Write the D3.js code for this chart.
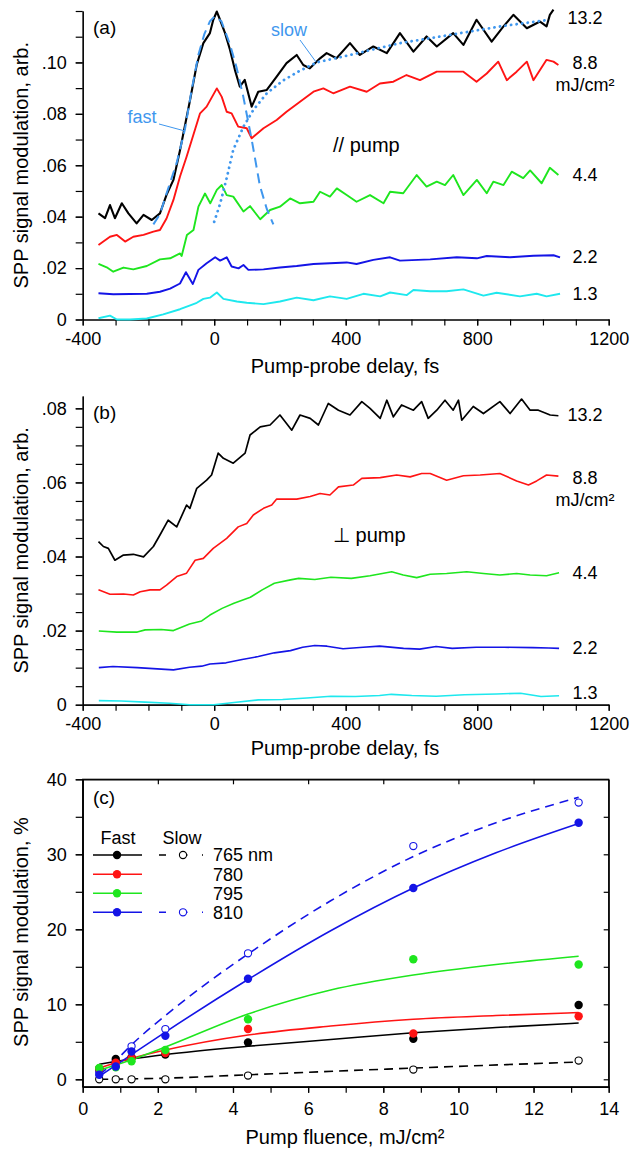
<!DOCTYPE html>
<html><head><meta charset="utf-8">
<script src="https://cdn.jsdelivr.net/npm/d3@7"></script>
<style>
body{margin:0;background:#fff}
text{font-family:"Liberation Sans",Arial,Helvetica,sans-serif;fill:#000}
</style>
</head><body>
<svg id="chart" width="633" height="1151"></svg>
<script>
// ---------- DATA ----------
const delayTicks = [-400, 0, 400, 800, 1200];
const delayMinor = d3.range(-400, 1201, 100);
const fluenceLabels = ["13.2", "8.8", "4.4", "2.2", "1.3"];

// panel (a)  // pump  [delay fs, modulation]
const a13_2 = [[-352,0.0413],[-332,0.0394],[-317,0.0445],[-302,0.0394],[-281,0.0452],[-261,0.0413],[-236,0.0374],[-215,0.0407],[-190,0.0387],[-165,0.0413],[-145,0.0485],[-124,0.0543],[-104,0.0658],[-74,0.085],[-53,0.0992],[-33,0.1075],[-13,0.1114],[-3,0.1165],[8,0.1198],[18,0.1165],[33,0.1114],[48,0.1049],[63,0.0971],[78,0.0906],[93,0.0932],[114,0.0828],[134,0.0886],[160,0.0893],[190,0.0945],[220,0.0997],[251,0.1029],[271,0.099],[291,0.0977],[322,0.1016],[342,0.1036],[372,0.1016],[413,0.1075],[443,0.1029],[484,0.1062],[525,0.1036],[565,0.1114],[606,0.1042],[646,0.1101],[677,0.1062],[727,0.1114],[758,0.1068],[798,0.1166],[844,0.1081],[880,0.114],[910,0.1185],[951,0.1133],[991,0.1159],[1011,0.114],[1021,0.1185],[1032,0.1205]];
const a8_8 = [[-352,0.029],[-317,0.0322],[-296,0.0329],[-271,0.0303],[-246,0.0322],[-215,0.0329],[-185,0.0342],[-165,0.0348],[-145,0.0393],[-124,0.0465],[-104,0.0556],[-84,0.0633],[-43,0.0802],[-23,0.0828],[8,0.0899],[23,0.0866],[38,0.0808],[53,0.0802],[73,0.075],[99,0.0744],[114,0.0705],[150,0.0744],[190,0.0776],[220,0.0808],[261,0.0847],[302,0.0886],[332,0.0899],[362,0.088],[413,0.0906],[464,0.0886],[504,0.0918],[545,0.0925],[585,0.0951],[626,0.0931],[677,0.0964],[717,0.0964],[758,0.0964],[798,0.0925],[829,0.0957],[864,0.1003],[890,0.0931],[920,0.0964],[951,0.1003],[971,0.0931],[1011,0.101],[1032,0.1003],[1047,0.099]];
const a4_4 = [[-352,0.0216],[-327,0.0203],[-307,0.0186],[-276,0.0202],[-246,0.0195],[-205,0.0208],[-165,0.0234],[-134,0.0238],[-104,0.0257],[-99,0.0247],[-83,0.0329],[-63,0.0348],[-48,0.0439],[-28,0.049],[-12,0.0452],[8,0.0504],[23,0.0523],[38,0.0484],[58,0.0478],[89,0.042],[109,0.0441],[140,0.039],[170,0.0426],[200,0.0439],[231,0.0471],[261,0.0452],[302,0.0458],[322,0.0497],[352,0.0478],[373,0.051],[403,0.0484],[433,0.0458],[474,0.0484],[515,0.0452],[535,0.0497],[575,0.0491],[616,0.0562],[646,0.0517],[677,0.0536],[702,0.0523],[727,0.0562],[758,0.0484],[799,0.0543],[829,0.0491],[849,0.0536],[880,0.0523],[905,0.0575],[940,0.055],[961,0.058],[996,0.053],[1021,0.059],[1047,0.0562]];
const a2_2 = [[-352,0.0102],[-307,0.0098],[-256,0.0099],[-205,0.010],[-165,0.0108],[-134,0.012],[-104,0.014],[-86,0.0184],[-65,0.0138],[-48,0.0193],[-23,0.0219],[3,0.0242],[18,0.0229],[38,0.0242],[53,0.0206],[74,0.0199],[89,0.0212],[104,0.0193],[150,0.0195],[200,0.0202],[251,0.0208],[302,0.0216],[352,0.0219],[403,0.0222],[433,0.0216],[484,0.0232],[535,0.0242],[565,0.0229],[657,0.0234],[738,0.0242],[799,0.0238],[829,0.0247],[900,0.0242],[971,0.0248],[1032,0.025],[1052,0.0242]];
const a1_3 = [[-352,0.0005],[-317,0.0015],[-296,0],[-256,0],[-205,0.0004],[-155,0.002],[-104,0.004],[-73,0.0055],[-53,0.0065],[-33,0.008],[-13,0.0085],[8,0.0105],[28,0.008],[69,0.007],[99,0.0065],[150,0.006],[200,0.007],[251,0.0085],[302,0.0075],[352,0.009],[403,0.008],[454,0.010],[505,0.009],[535,0.0105],[586,0.0095],[606,0.0115],[657,0.011],[707,0.011],[758,0.0117],[819,0.0093],[859,0.0104],[930,0.009],[981,0.010],[1011,0.009],[1052,0.010]];
const fastFit = [[-185,0.037],[-165,0.041],[-145,0.049],[-114,0.061],[-89,0.074],[-69,0.089],[-48,0.103],[-30,0.111],[-13,0.116],[2,0.118],[22,0.116],[48,0.107],[68,0.098],[88,0.087],[114,0.070],[139,0.052],[160,0.043],[180,0.037]];
const slowFit = [[0,0.038],[18,0.045],[38,0.055],[58,0.066],[89,0.075],[119,0.0815],[160,0.088],[210,0.093],[261,0.0968],[312,0.1],[413,0.1029],[565,0.1075],[717,0.1107],[870,0.114],[1021,0.1166]];

// panel (b)  ⊥ pump
const b13_2 = [[-352,0.044],[-337,0.0427],[-322,0.0422],[-302,0.039],[-276,0.0404],[-246,0.0406],[-215,0.0399],[-185,0.0427],[-165,0.0458],[-140,0.0498],[-114,0.048],[-84,0.0539],[-74,0.053],[-53,0.0584],[-23,0.0606],[-8,0.062],[12,0.0679],[28,0.0665],[58,0.0652],[94,0.0679],[109,0.0728],[140,0.075],[170,0.0755],[200,0.0782],[236,0.0741],[261,0.0782],[292,0.0773],[317,0.0755],[347,0.0813],[378,0.0795],[413,0.0782],[449,0.0818],[474,0.08],[505,0.0773],[525,0.0822],[545,0.0777],[570,0.0809],[606,0.0795],[631,0.0818],[651,0.0773],[677,0.0795],[702,0.0822],[727,0.0795],[743,0.0822],[753,0.0768],[788,0.0805],[819,0.0786],[869,0.0818],[900,0.0786],[935,0.0825],[961,0.0795],[986,0.0795],[1022,0.0782],[1047,0.078]];
const b8_8 = [[-352,0.031],[-317,0.0298],[-276,0.0299],[-246,0.0296],[-225,0.0305],[-195,0.031],[-165,0.031],[-145,0.0323],[-114,0.0346],[-84,0.0355],[-58,0.039],[-33,0.0395],[-3,0.0422],[38,0.0449],[73,0.048],[99,0.0489],[119,0.0512],[150,0.053],[175,0.0539],[190,0.0555],[221,0.0555],[251,0.0555],[292,0.0562],[322,0.057],[352,0.0566],[378,0.0588],[423,0.0593],[449,0.0611],[505,0.0613],[555,0.062],[596,0.0615],[631,0.0624],[657,0.0624],[707,0.0606],[758,0.0618],[809,0.062],[869,0.0624],[920,0.0604],[956,0.0593],[981,0.0604],[1011,0.062],[1047,0.0617]];
const b4_4 = [[-351,0.0199],[-296,0.0196],[-234,0.0196],[-210,0.0202],[-161,0.0203],[-124,0.020],[-75,0.0218],[-38,0.0226],[-13,0.0242],[24,0.026],[60,0.0274],[110,0.029],[146,0.031],[183,0.0328],[232,0.0337],[257,0.0341],[306,0.0338],[355,0.0344],[417,0.0341],[474,0.0348],[503,0.0353],[540,0.0359],[575,0.035],[616,0.0343],[657,0.0352],[707,0.0354],[768,0.0359],[819,0.0354],[869,0.035],[920,0.0354],[961,0.035],[1011,0.0348],[1049,0.0356]];
const b2_2 = [[-351,0.01],[-308,0.0103],[-234,0.01],[-161,0.0096],[-124,0.0094],[-75,0.0101],[-38,0.0104],[-13,0.011],[36,0.0113],[85,0.0122],[134,0.013],[183,0.014],[232,0.0146],[269,0.0155],[306,0.016],[343,0.0158],[392,0.0151],[453,0.0155],[503,0.0158],[576,0.0152],[625,0.015],[675,0.0157],[724,0.0152],[797,0.0155],[883,0.0155],[969,0.0154],[1018,0.0153],[1049,0.0152]];
const b1_3 = [[-351,0.0011],[-283,0.001],[-210,0.0007],[-136,0.0004],[-75,0],[-1,0],[60,0.0006],[134,0.0013],[208,0.0014],[282,0.0018],[355,0.0023],[429,0.0022],[503,0.0025],[539,0.0028],[601,0.0025],[675,0.0023],[761,0.0027],[859,0.0029],[932,0.0031],[994,0.0022],[1049,0.0024]];

// panel (c)
const fluence = [0.44, 0.88, 1.3, 2.2, 4.4, 8.8, 13.2];
const fast765 = [1.4, 2.7, 2.9, 3.3, 4.9, 5.4, 9.9];
const fast780 = [1.4, 2.2, 2.8, 3.5, 6.7, 6.1, 8.4];
const fast795 = [1.5, 1.6, 2.4, 3.9, 8.0, 16.0, 15.3];
const fast810 = [0.6, 1.7, 3.7, 5.8, 13.4, 25.5, 34.2];
const slow765 = [0, 0, 0, 0, 0.5, 1.3, 2.5];
const slow810 = [1.0, 2.4, 4.4, 6.7, 16.8, 31.1, 36.9];
const fitFast765 = [[0.44,2.0],[1.3,2.7],[2.2,3.3],[4.4,4.4],[6.6,5.3],[8.8,6.2],[11,6.9],[13.2,7.5]];
const fitFast780 = [[0.44,1.5],[1.3,2.8],[2.2,3.9],[4.4,5.9],[6.6,7.1],[8.8,8.0],[11,8.5],[13.2,8.9]];
const fitFast795 = [[0.44,1.2],[1.3,2.6],[2.2,4.3],[4.4,8.7],[6.6,11.9],[8.8,13.9],[11,15.3],[13.2,16.4]];
const fitFast810 = [[0.44,0.4],[1.3,3.3],[2.2,6.3],[4.4,13.3],[6.6,19.8],[8.8,25.5],[11,30.2],[13.2,34.1]];
const fitSlow765 = [[0.44,0],[2.2,0.15],[4.4,0.6],[8.8,1.5],[13.2,2.3]];
const fitSlow810 = [[0.44,0.6],[0.88,2.5],[1.3,4.6],[2.2,8.5],[3.3,12.8],[4.4,16.7],[6.6,23.8],[8.8,29.7],[11,34.2],[13.2,37.6]];
const wavelengths = ["765 nm", "780", "795", "810"];

// ---------- DRAW ----------
const svg = d3.select("#chart");
const FONT = '"Liberation Sans",Arial,Helvetica,sans-serif';
const C = {black:"#000", red:"#ff1414", green:"#1ee61e", blue:"#1414e6", cyan:"#1ee8ee", fit:"#3f97ee"};

const x = d3.scaleLinear().domain([-400,1200]).range([82.7,608.7]);
const yA = d3.scaleLinear().domain([0,0.12]).range([319.5,11]);
const yB = d3.scaleLinear().domain([0,0.0833]).range([704.7,396.1]);
const fmtY = d => d === 0 ? "0" : d3.format(".2f")(d).replace(/^0/, "");
const fmtX = d => String(d);

function styleAxis(g){
  g.selectAll("path,line").attr("stroke","#000").attr("stroke-width",1.2);
  g.selectAll("text").attr("font-size",18).attr("font-family",FONT).attr("fill","#000");
}

function delayPanel(y, yMajor, yMinor, series, tag, tagY, note, noteY, labelY, unitY, titleY){
  const y0 = y.range()[0];
  svg.append("g").attr("transform",`translate(0,${y0})`)
    .call(d3.axisBottom(x).tickValues(delayMinor).tickSize(6).tickSizeOuter(0).tickFormat(""))
    .call(styleAxis);
  svg.append("g").attr("transform",`translate(0,${y0})`)
    .call(d3.axisBottom(x).tickValues(delayTicks).tickSize(6).tickSizeOuter(0).tickPadding(7).tickFormat(fmtX))
    .call(styleAxis);
  svg.append("g").attr("transform","translate(82.7,0)")
    .call(d3.axisLeft(y).tickValues(yMinor).tickSize(7).tickSizeOuter(0).tickFormat(""))
    .call(styleAxis);
  svg.append("g").attr("transform","translate(82.7,0)")
    .call(d3.axisLeft(y).tickValues(yMajor).tickSize(7).tickSizeOuter(0).tickPadding(9).tickFormat(fmtY))
    .call(styleAxis);
  const line = d3.line().x(d=>x(d[0])).y(d=>y(d[1]));
  series.forEach(s=>{
    svg.append("path").datum(s.d).attr("d",line).attr("fill","none")
      .attr("stroke",s.c).attr("stroke-width",s.w||1.9).attr("stroke-linejoin","round");
  });
  svg.append("text").attr("x",93).attr("y",tagY).attr("dy","0.35em").attr("font-size",19).text(tag);
  svg.append("text").attr("x",333).attr("y",noteY).attr("dy","0.35em").attr("font-size",20).text(note);
  fluenceLabels.forEach((t,i)=>{
    svg.append("text").attr("x",585).attr("y",labelY[i]).attr("dy","0.35em").attr("text-anchor","middle").attr("font-size",18).text(t);
  });
  svg.append("text").attr("x",585).attr("y",unitY).attr("dy","0.35em").attr("text-anchor","middle").attr("font-size",18).text("mJ/cm²");
  svg.append("text").attr("x",345).attr("y",titleY).attr("dy","0.35em").attr("text-anchor","middle").attr("font-size",20).text("Pump-probe delay, fs");
  const yc = (y.range()[0]+y.range()[1])/2;
  svg.append("text").attr("transform",`translate(21,${yc}) rotate(-90)`).attr("dy","0.35em").attr("text-anchor","middle").attr("font-size",20).text("SPP signal modulation, arb.");
}

// Panel (a)
delayPanel(yA, [0,0.02,0.04,0.06,0.08,0.10], d3.range(0,0.1201,0.01), [
  {d:a1_3,c:C.cyan},{d:a2_2,c:C.blue},{d:a4_4,c:C.green},{d:a8_8,c:C.red},{d:a13_2,c:C.black,w:2.1}
], "(a)", 27, "// pump", 145, [18,63,175,257,294], 85, 366);
{
  const line = d3.line().x(d=>x(d[0])).y(d=>yA(d[1]));
  svg.append("path").datum(fastFit).attr("d",line).attr("fill","none").attr("stroke",C.fit).attr("stroke-width",2).attr("stroke-dasharray","10,6");
  svg.append("path").datum(slowFit).attr("d",line).attr("fill","none").attr("stroke",C.fit).attr("stroke-width",2.8).attr("stroke-dasharray","0.1,5.5").attr("stroke-linecap","round");
  svg.append("text").attr("x",142).attr("y",117).attr("dy","0.35em").attr("text-anchor","middle").attr("font-size",18).style("fill",C.fit).text("fast");
  svg.append("line").attr("x1",159).attr("y1",124).attr("x2",185).attr("y2",131).attr("stroke",C.fit).attr("stroke-width",1);
  svg.append("text").attr("x",289).attr("y",30).attr("dy","0.35em").attr("text-anchor","middle").attr("font-size",18).style("fill",C.fit).text("slow");
  svg.append("line").attr("x1",300).attr("y1",40).attr("x2",316).attr("y2",62).attr("stroke",C.fit).attr("stroke-width",1);
}

// Panel (b)
delayPanel(yB, [0,0.02,0.04,0.06,0.08], d3.range(0,0.0801,0.005), [
  {d:b1_3,c:C.cyan,w:1.6},{d:b2_2,c:C.blue,w:1.6},{d:b4_4,c:C.green,w:1.6},{d:b8_8,c:C.red,w:1.6},{d:b13_2,c:C.black,w:1.7}
], "(b)", 412, "\u22A5 pump", 535, [415,478,573,648,693], 500, 748);

// Panel (c)
const xc = d3.scaleLinear().domain([0,14]).range([82.7,608.7]);
const yc = d3.scaleLinear().domain([-1,40]).range([1086.8,779.3]);
svg.append("rect").attr("x",xc(0)).attr("y",yc(40)).attr("width",xc(14)-xc(0)).attr("height",yc(-1)-yc(40))
  .attr("fill","none").attr("stroke","#000").attr("stroke-width",1.2);
svg.append("g").attr("transform",`translate(0,${yc(-1)})`)
  .call(d3.axisBottom(xc).tickValues(d3.range(0,15,1)).tickSize(6).tickSizeOuter(0).tickFormat("")).call(styleAxis);
svg.append("g").attr("transform",`translate(0,${yc(-1)})`)
  .call(d3.axisBottom(xc).tickValues(d3.range(0,15,2)).tickSize(6).tickSizeOuter(0).tickPadding(9).tickFormat(d3.format("d"))).call(styleAxis);
svg.append("g").attr("transform",`translate(0,${yc(40)})`)
  .call(d3.axisBottom(xc).tickValues(d3.range(2,13,2)).tickSize(5).tickSizeOuter(0).tickFormat("")).call(styleAxis);
svg.append("g").attr("transform",`translate(${xc(0)},0)`)
  .call(d3.axisLeft(yc).tickValues(d3.range(0,41,5)).tickSize(7).tickSizeOuter(0).tickFormat("")).call(styleAxis);
svg.append("g").attr("transform",`translate(${xc(0)},0)`)
  .call(d3.axisLeft(yc).tickValues(d3.range(0,41,10)).tickSize(7).tickSizeOuter(0).tickPadding(9).tickFormat(d3.format("d"))).call(styleAxis);
svg.append("g").attr("transform",`translate(${xc(14)},0)`)
  .call(d3.axisLeft(yc).tickValues(d3.range(0,40,5)).tickSize(5).tickSizeOuter(0).tickFormat("")).call(styleAxis);

const fitLine = d3.line().x(d=>xc(d[0])).y(d=>yc(d[1])).curve(d3.curveMonotoneX);
const fits = [
  {d:fitSlow765,c:C.black,dash:"9,6"},{d:fitSlow810,c:C.blue,dash:"9,6"},
  {d:fitFast765,c:C.black},{d:fitFast780,c:C.red},{d:fitFast795,c:C.green},{d:fitFast810,c:C.blue}
];
fits.forEach(f=>{
  svg.append("path").datum(f.d).attr("d",fitLine).attr("fill","none").attr("stroke",f.c)
    .attr("stroke-width",1.6).attr("stroke-dasharray",f.dash||null);
});
const pts = [
  {v:slow765,c:C.black,open:true},{v:slow810,c:C.blue,open:true},
  {v:fast765,c:C.black},{v:fast780,c:C.red},{v:fast795,c:C.green},{v:fast810,c:C.blue}
];
pts.forEach(p=>{
  svg.append("g").selectAll("circle").data(p.v.map((v,i)=>[fluence[i],v])).join("circle")
    .attr("cx",d=>xc(d[0])).attr("cy",d=>yc(d[1])).attr("r",p.open?3.6:4.2)
    .attr("fill",p.open?"#fff":p.c).attr("stroke",p.c).attr("stroke-width",p.open?1.1:0);
});

// legend
svg.append("text").attr("x",93).attr("y",797).attr("dy","0.35em").attr("font-size",19).text("(c)");
svg.append("text").attr("x",118).attr("y",838).attr("dy","0.35em").attr("text-anchor","middle").attr("font-size",18).text("Fast");
svg.append("text").attr("x",182).attr("y",838).attr("dy","0.35em").attr("text-anchor","middle").attr("font-size",18).text("Slow");
const legColors = [C.black, C.red, C.green, C.blue];
const legSlow = [true,false,false,true];
const rowY = [855, 874.3, 893.3, 912.3];
wavelengths.forEach((w,i)=>{
  const ry = rowY[i];
  svg.append("line").attr("x1",93).attr("x2",142).attr("y1",ry).attr("y2",ry).attr("stroke",legColors[i]).attr("stroke-width",1.6);
  svg.append("circle").attr("cx",117).attr("cy",ry).attr("r",4.2).attr("fill",legColors[i]);
  if(legSlow[i]){
    svg.append("line").attr("x1",159).attr("x2",203).attr("y1",ry).attr("y2",ry).attr("stroke",legColors[i]).attr("stroke-width",1.6).attr("stroke-dasharray","7,14.5");
    svg.append("circle").attr("cx",183).attr("cy",ry).attr("r",3.6).attr("fill","#fff").attr("stroke",legColors[i]).attr("stroke-width",1.1);
  }
  svg.append("text").attr("x",213).attr("y",ry).attr("dy","0.35em").attr("font-size",18).text(w);
});
svg.append("text").attr("x",345).attr("y",1137).attr("dy","0.35em").attr("text-anchor","middle").attr("font-size",20).text("Pump fluence, mJ/cm²");
svg.append("text").attr("transform","translate(21,932) rotate(-90)").attr("dy","0.35em").attr("text-anchor","middle").attr("font-size",20).text("SPP signal modulation, %");
</script>
</body></html>
